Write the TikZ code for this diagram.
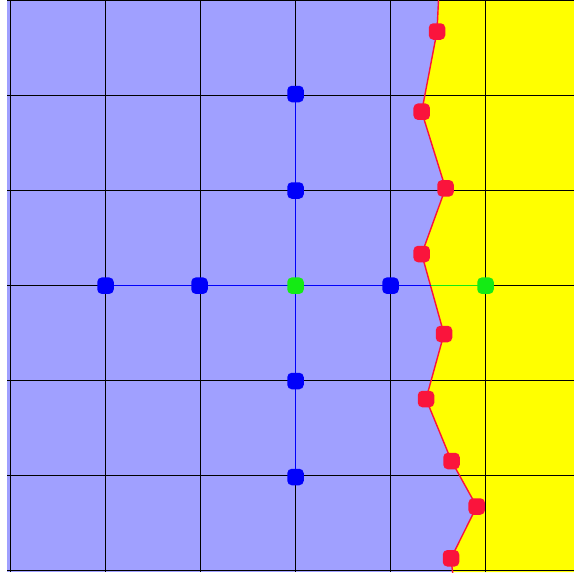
\documentclass[tikz,border=0pt]{standalone}
\usetikzlibrary{shapes.geometric}
\definecolor{regblue}{RGB}{160,160,255}
\definecolor{regyellow}{RGB}{255,255,0}
\definecolor{ptred}{RGB}{250,20,60}
\definecolor{ptblue}{RGB}{0,0,250}
\definecolor{ptgreen}{RGB}{20,235,20}
\pgfdeclarelayer{back}
\pgfsetlayers{back,main}
\tikzset{
  dot/.style={rectangle, rounded corners=4.5pt, minimum size=16.5pt,
    inner sep=0pt, draw=none, fill=#1},
  gridline/.style={black, line width=1.8pt},
  link/.style={line width=1.5pt},
}
\begin{document}
\begin{tikzpicture}[x=1pt,y=-1pt]
\useasboundingbox (0,0) rectangle (574,573);
% red boundary points
\coordinate (rtop) at (438.5,0);
\node[dot=ptred] (r1) at (437,31.5) {};
\node[dot=ptred] (r2) at (421.7,111.7) {};
\node[dot=ptred] (r3) at (445.5,188.3) {};
\node[dot=ptred] (r4) at (421.7,254) {};
\node[dot=ptred] (r5) at (444,334) {};
\node[dot=ptred] (r6) at (426,399) {};
\node[dot=ptred] (r7) at (451.5,461) {};
\node[dot=ptred] (r8) at (476.7,506.5) {};
\node[dot=ptred] (r9) at (451,558.3) {};
\coordinate (rbot) at (452.7,573);
% stencil
\coordinate (cut) at (430.5,285.7);
\node[dot=ptblue] (b1) at (295.5,94) {};
\node[dot=ptblue] (b2) at (295.5,190.5) {};
\node[dot=ptblue] (b3) at (105.5,285.7) {};
\node[dot=ptblue] (b4) at (199.5,285.7) {};
\node[dot=ptblue] (b5) at (390.5,285.7) {};
\node[dot=ptblue] (b6) at (295.5,381) {};
\node[dot=ptblue] (b7) at (295.5,477) {};
\node[dot=ptgreen] (g1) at (295.5,285.7) {};
\node[dot=ptgreen] (g2) at (485.5,285.7) {};
\begin{pgfonlayer}{back}
% regions
\fill[regblue] (7,0) rectangle (574,572);
\fill[regyellow] (rtop) -- (r1.center) -- (r2.center) -- (r3.center) -- (r4.center) -- (r5.center) -- (r6.center) -- (r7.center) -- (r8.center) -- (r9.center) -- (452.6,572) -- (574,572) -- (574,0) -- cycle;
% grid
\foreach \k in {0,...,5} {\draw[gridline] (10.5+95*\k,0) -- (10.5+95*\k,572);}
\foreach \k in {0,...,6} {\draw[gridline] (7,0.5+95*\k) -- (574,0.5+95*\k);}
% boundary
\draw[ptred, line width=1.4pt] (rtop) -- (r1.center) -- (r2.center) -- (r3.center) -- (r4.center) -- (r5.center) -- (r6.center) -- (r7.center) -- (r8.center) -- (r9.center) -- (rbot);
% stencil links
\draw[ptblue, link] (b3.center) -- (cut);
\draw[ptgreen, link] (cut) -- (g2.center);
\draw[ptblue, link] (b1.center) -- (b7.center);
\end{pgfonlayer}
\end{tikzpicture}
\end{document}
